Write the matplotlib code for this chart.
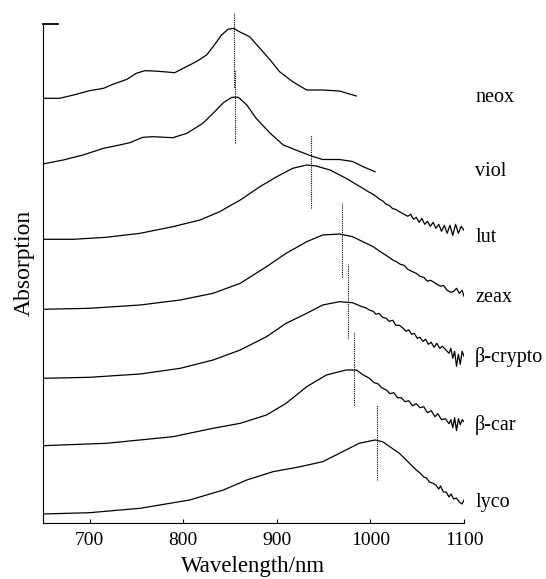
import matplotlib
matplotlib.use("Agg")
import matplotlib.pyplot as plt

plt.rcParams["font.family"] = ["Liberation Serif", "DejaVu Serif"]

# spectra: wavelength (nm) and height above each baseline
names = ["neox", "viol", "lut", "zeax", "β-crypto", "β-car", "lyco"]
baselines = [424.4, 358.7, 283.4, 213.4, 144.4, 77.0, 8.7]

neox_wl = [650, 668, 683, 700, 715, 725, 740, 750, 759, 768, 779, 791, 800,
           814, 825, 832, 841, 848, 854, 860, 871, 882, 893, 903, 917, 932,
           949, 967, 985]
neox_a = [0, 0, 3.3, 7.6, 10, 14, 19, 25, 27.6, 27.3, 26.6, 25.6, 30,
          36.6, 43.3, 51.6, 63.3, 69, 70, 66.6, 61.6, 50, 38.3, 26.6, 16.6, 8.3,
          8.3, 7.3, 2.3]

viol_wl = [650, 672, 693, 715, 732, 743, 757, 768, 789, 804, 821, 832, 843,
           852, 859, 868, 878, 893, 907, 925, 937, 949, 967, 981, 993, 1005]
viol_a = [0, 4, 9, 15.7, 19, 21.3, 26.7, 27.3, 26.3, 30.7, 40.7, 50.7, 61.3,
          66.7, 66.7, 59, 45.7, 30.7, 19, 12.3, 8, 4.5, 4.5, 2.5, -3, -7.7]

lut_wl = [650, 683, 718, 754, 789, 818, 839, 861, 882, 900, 917, 932, 942,
          957, 974, 992, 997, 1002, 1006, 1010, 1013, 1017, 1020, 1024, 1027,
          1031, 1036, 1040, 1043, 1046, 1049, 1052, 1055, 1058, 1061, 1064,
          1067, 1070, 1073, 1076, 1079, 1082, 1085, 1088, 1091, 1094, 1097,
          1100]
lut_a = [0, 0, 2, 6, 12.6, 19.3, 27.6, 39.3, 52.6, 62.6, 71, 74.3, 73.3,
         69.3, 61, 51, 48, 45.5, 43, 40, 38.5, 35, 34, 30.5, 30,
         27.6, 25, 23, 25, 20, 22, 17, 21, 15, 18, 13,
         17, 11, 15, 8, 14, 6, 14, 4, 15, 6, 13,
         9]

zeax_wl = [650, 700, 754, 797, 832, 861, 889, 910, 932, 949, 967, 981, 1003,
           1010, 1015, 1020, 1024, 1028, 1032, 1036, 1040, 1045, 1049, 1053,
           1057, 1061, 1064, 1067, 1071, 1075, 1078, 1082, 1086, 1089, 1092,
           1095, 1098, 1100]
zeax_a = [0, 1, 4.3, 9.3, 16, 26, 42.6, 56, 67.6, 74.3, 75.3, 72.6, 62.6,
          58, 55, 52, 49.3, 47.5, 45, 44, 40, 37.6, 36, 33,
          32, 28, 29, 27.6, 25, 23, 24, 19, 17, 18, 21,
          16, 19, 13]

crypto_wl = [650, 700, 754, 797, 832, 861, 889, 910, 932, 949, 967, 981, 990,
             995, 999, 1003, 1006, 1009, 1013, 1017, 1020, 1024, 1027, 1031,
             1035, 1038, 1041, 1044, 1047, 1050, 1053, 1056, 1059, 1062, 1065,
             1068, 1071, 1074, 1077, 1081, 1084, 1086, 1088, 1090, 1092, 1094,
             1096, 1098, 1100]
crypto_a = [0, 1, 4.3, 10, 18.3, 28.3, 41.6, 55, 65, 73.3, 76.6, 75.6, 72,
            70.5, 68.3, 67, 64, 65, 61, 60, 57, 58, 53, 53,
            50, 47, 48.5, 44, 45, 40, 41, 37, 39, 34, 36,
            31, 35, 30, 32, 28, 25, 30, 20, 27, 12, 24,
            14, 27, 22]

car_wl = [650, 718, 789, 832, 861, 889, 910, 932, 953, 974, 985, 992, 999,
          1004, 1008, 1012, 1017, 1021, 1025, 1029, 1033, 1037, 1041, 1045,
          1049, 1053, 1057, 1061, 1065, 1069, 1072, 1076, 1080, 1084, 1086,
          1088, 1090, 1092, 1094, 1096, 1098, 1100]
car_a = [0, 2.4, 9, 17.4, 22.4, 30.7, 42.4, 59, 70.7, 75.7, 75.7, 71, 67.4,
         63, 62, 58, 55.7, 52, 53, 48, 48, 44, 45, 40,
         42, 38, 39, 33, 35, 29, 32, 26, 27, 22, 26,
         18, 28, 15, 27, 21, 26, 24]

lyco_wl = [650, 700, 754, 807, 843, 868, 896, 925, 949, 967, 988, 1005, 1013,
           1031, 1049, 1053, 1057, 1060, 1063, 1067, 1070, 1073, 1075, 1078,
           1081, 1084, 1086, 1089, 1092, 1095, 1098, 1100]
lyco_a = [0, 1.3, 5.7, 14, 24, 34, 42.3, 47.3, 52.3, 60.7, 70.7, 74, 72.3,
          60.7, 44, 41, 37, 36, 32, 30.7, 29, 25, 28, 22,
          22, 17, 20, 15, 16, 12, 10, 14]

# dotted peak markers: wavelength and vertical extent (absolute heights)
peak_wl = [854, 855, 937, 970, 976, 982, 1007.5]
peak_lo = [436, 379.4, 314.4, 246, 184.7, 117.7, 42.7]
peak_hi = [509.7, 452.7, 387.7, 319.4, 258.7, 191, 117.7]
label_y = [425.7, 350.7, 284.7, 225.7, 165.7, 97.7, 20.7]

spectra = [(neox_wl, neox_a), (viol_wl, viol_a), (lut_wl, lut_a),
           (zeax_wl, zeax_a), (crypto_wl, crypto_a), (car_wl, car_a),
           (lyco_wl, lyco_a)]

fig = plt.figure(figsize=(5.46, 5.79), dpi=100)
ax = fig.add_axes([42.7 / 546, 56.3 / 579, 421.3 / 546, 520 / 579])

for (wl, a), base in zip(spectra, baselines):
    ax.plot(wl, [v + base for v in a], color="black", lw=0.9)

for x, lo, hi in zip(peak_wl, peak_lo, peak_hi):
    ax.plot([x, x], [lo, hi], color="black", lw=0.8, ls=(0, (1, 1)),
            clip_on=False)

for name, y in zip(names, label_y):
    ax.text(1112, y, name, fontsize=14.5, va="center", ha="left")

# short mark at the top of the y axis
ax.plot([650, 666], [498.7, 498.7], color="black", lw=1.3, clip_on=False)

ax.set_xlim(650, 1100)
ax.set_ylim(0, 520)
ax.spines["top"].set_visible(False)
ax.spines["right"].set_visible(False)
ax.spines["left"].set_bounds(0, 498.7)
ax.set_yticks([])
ax.set_xticks([700, 800, 900, 1000, 1100])
ax.tick_params(axis="x", direction="in", length=3, labelsize=14, pad=7)
ax.set_xlabel("Wavelength/nm", fontsize=16.5, labelpad=5)
ax.set_ylabel("Absorption", fontsize=17, labelpad=6)

fig.savefig("out.png", dpi=100)
